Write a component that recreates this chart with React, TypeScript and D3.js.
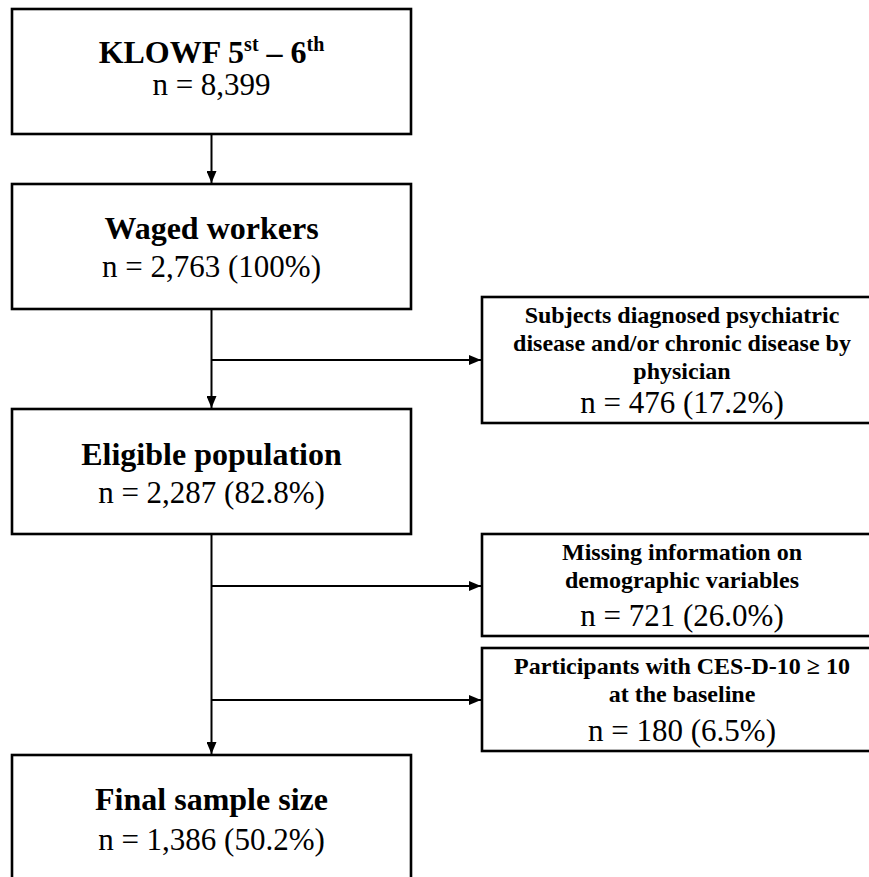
import React, { useRef, useEffect } from 'react'
import * as d3 from 'd3'

// main flow boxes (left column)
const mainTitles = ["KLOWF", "Waged workers", "Eligible population", "Final sample size"]
const mainCounts = ["n = 8,399", "n = 2,763 (100%)", "n = 2,287 (82.8%)", "n = 1,386 (50.2%)"]

// exclusion boxes (right column)
const exclusionLines = [
  ["Subjects diagnosed psychiatric", "disease and/or chronic disease by", "physician"],
  ["Missing information on", "demographic variables"],
  ["Participants with CES-D-10 \u2265 10", "at the baseline"],
]
const exclusionCounts = ["n = 476 (17.2%)", "n = 721 (26.0%)", "n = 180 (6.5%)"]

// which main step each exclusion branches from
const exclusionFrom = [1, 2, 2]

const W = 869
const H = 877
const FONT = "'Liberation Serif', 'Times New Roman', serif"

const layout = {
  mainX: 12, mainW: 399,
  mainTop: [9, 184, 409, 755], mainH: 125,
  exX: 482, exW: 400,
  exTop: [297, 534, 648], exH: [126, 102, 103],
  branchY: [360, 586, 700],
  titleDy: [54, 55, 56, 55],
  countDy: [86, 93, 94, 95],
}

export default function App() {
  const ref = useRef<SVGSVGElement>(null)

  useEffect(() => {
    const svg = d3.select(ref.current)
    svg.selectAll("*").remove()

    const defs = svg.append("defs")
    defs.append("marker")
      .attr("id", "arrow")
      .attr("viewBox", "0 0 12 10")
      .attr("refX", 12).attr("refY", 5)
      .attr("markerWidth", 12).attr("markerHeight", 10)
      .attr("markerUnits", "userSpaceOnUse")
      .attr("orient", "auto")
      .append("path").attr("d", "M0,0 L12,5 L0,10 Z").attr("fill", "#000")

    const cx = layout.mainX + layout.mainW / 2
    const g = svg.append("g")

    // main boxes
    const mains = g.selectAll(".main")
      .data(mainTitles.map((t, i) => ({ t, n: mainCounts[i], i })))
      .join("g").attr("class", "main")

    mains.append("rect")
      .attr("x", layout.mainX).attr("y", d => layout.mainTop[d.i])
      .attr("width", layout.mainW).attr("height", layout.mainH)
      .attr("fill", "#fff").attr("stroke", "#000").attr("stroke-width", 2.6)

    mains.each(function (d) {
      const sel = d3.select(this)
      const top = layout.mainTop[d.i]
      const title = sel.append("text")
        .attr("x", cx).attr("y", top + layout.titleDy[d.i])
        .attr("text-anchor", "middle")
        .attr("font-family", FONT).attr("font-weight", "bold")
        .attr("font-size", 32).attr("fill", "#000")
      if (d.i === 0) {
        title.append("tspan").text("KLOWF 5")
        title.append("tspan").attr("font-size", 20).attr("dy", -12).text("st")
        title.append("tspan").attr("dy", 12).text(" \u2013 6")
        title.append("tspan").attr("font-size", 20).attr("dy", -12).text("th")
      } else {
        title.text(d.t)
      }
      sel.append("text")
        .attr("x", cx).attr("y", top + layout.countDy[d.i])
        .attr("text-anchor", "middle")
        .attr("font-family", FONT).attr("font-size", 31).attr("fill", "#000")
        .text(d.n)
    })

    // vertical connectors
    const lineStyle = (s: any) => s.attr("stroke", "#000").attr("stroke-width", 2).attr("fill", "none")
    d3.range(mainTitles.length - 1).forEach(i => {
      g.append("line")
        .attr("x1", cx).attr("x2", cx)
        .attr("y1", layout.mainTop[i] + layout.mainH)
        .attr("y2", layout.mainTop[i + 1] - 1)
        .call(lineStyle)
        .attr("marker-end", "url(#arrow)")
    })

    // exclusion branches and boxes
    exclusionLines.forEach((lines, j) => {
      const top = layout.exTop[j]
      const ecx = layout.exX + layout.exW / 2
      g.append("line")
        .attr("x1", cx).attr("x2", layout.exX - 1)
        .attr("y1", layout.branchY[j]).attr("y2", layout.branchY[j])
        .call(lineStyle)
        .attr("marker-end", "url(#arrow)")
      g.append("rect")
        .attr("x", layout.exX).attr("y", top)
        .attr("width", layout.exW).attr("height", layout.exH[j])
        .attr("fill", "#fff").attr("stroke", "#000").attr("stroke-width", 2.6)
      lines.forEach((ln, k) => {
        g.append("text")
          .attr("x", ecx).attr("y", top + 26 + k * 28)
          .attr("text-anchor", "middle")
          .attr("font-family", FONT).attr("font-weight", "bold")
          .attr("font-size", 24).attr("fill", "#000")
          .text(ln)
      })
      g.append("text")
        .attr("x", ecx).attr("y", top + layout.exH[j] - 10)
        .attr("text-anchor", "middle")
        .attr("font-family", FONT).attr("font-size", 31).attr("fill", "#000")
        .text(exclusionCounts[j])
    })
  }, [])

  return (
    <svg ref={ref} width={W} height={H}
      style={{ position: "absolute", left: 0, top: 0, background: "#fff" }} />
  )
}
